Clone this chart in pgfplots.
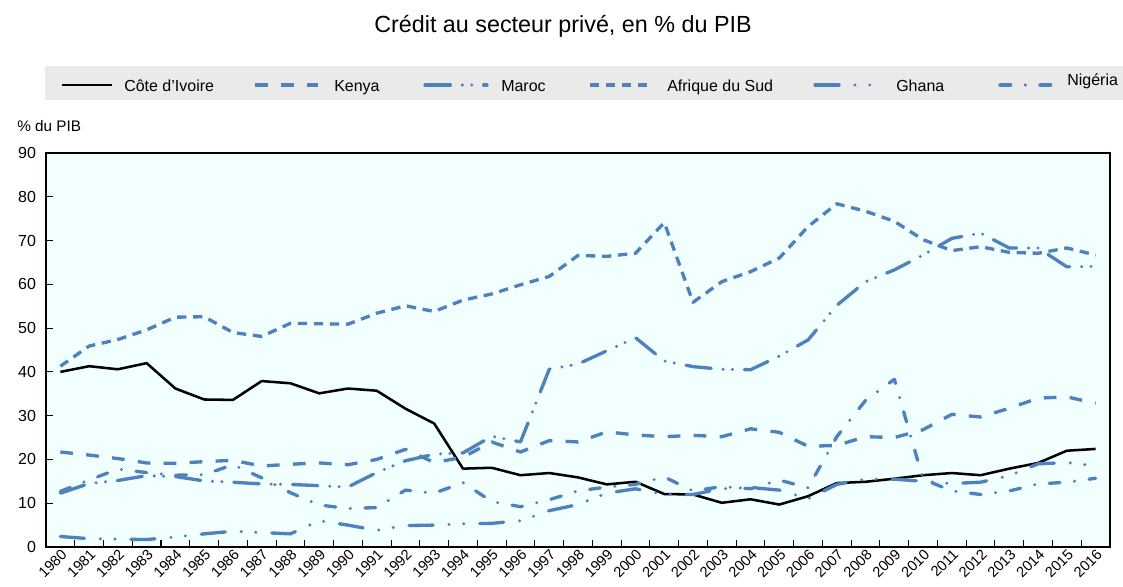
\documentclass[border=0pt]{standalone}
\usepackage{fontspec}
\setmainfont{Liberation Sans}
\usepackage{pgfplots}
\usepackage{pgfplotstable}
\pgfplotsset{compat=1.18}

\definecolor{oecdblue}{RGB}{79,129,189}
\definecolor{plotbg}{RGB}{242,255,255}
\definecolor{legbg}{RGB}{234,234,234}

% year, Cote d'Ivoire, Kenya, Maroc, Afrique du Sud, Ghana, Nigeria
\pgfplotstableread{
year civ  ken  mar  zaf  gha  nga
1980 40.0 21.7 12.3 41.3 2.4  12.7
1981 41.3 21.0 14.5 45.9 1.9  15.3
1982 40.6 20.2 15.2 47.4 1.8  17.8
1983 42.0 19.2 16.3 49.6 1.7  17.0
1984 36.2 19.1 16.1 52.5 2.3  16.4
1985 33.7 19.5 15.1 52.6 3.0  16.5
1986 33.6 19.8 14.8 49.0 3.6  18.8
1987 37.9 18.5 14.4 48.1 3.3  15.8
1988 37.4 18.9 14.3 51.1 3.0  12.4
1989 35.1 19.2 14.0 51.0 6.0  9.6
1990 36.2 18.8 13.7 50.9 5.0  8.8
1991 35.7 20.0 17.0 53.4 3.8  9.0
1992 31.6 22.3 19.7 55.1 4.9  13.0
1993 28.2 19.3 21.2 53.8 5.0  12.3
1994 17.9 20.5 21.5 56.4 5.3  14.7
1995 18.1 24.0 25.3 57.8 5.4  10.4
1996 16.4 21.7 24.0 59.9 6.0  9.2
1997 16.9 24.3 40.6 61.8 8.3  10.8
1998 15.9 24.0 41.8 66.6 9.7  12.8
1999 14.3 26.3 44.8 66.4 12.3 13.7
2000 14.9 25.6 47.8 67.1 13.3 14.3
2001 12.1 25.2 42.5 74.1 12.0 16.0
2002 12.0 25.5 41.2 55.9 12.0 12.8
2003 10.1 25.2 40.6 60.6 13.3 13.8
2004 10.9 27.0 40.5 62.9 13.6 13.3
2005 9.7  26.2 43.6 66.0 13.0 15.3
2006 11.6 23.0 47.3 73.2 11.0 13.5
2007 14.6 23.2 55.2 78.4 14.3 25.2
2008 14.9 25.2 60.6 76.7 15.5 33.5
2009 15.6 25.0 63.3 74.4 15.5 38.3
2010 16.4 26.8 66.7 70.2 15.0 15.5
2011 16.9 30.3 70.5 67.7 14.5 12.8
2012 16.4 29.7 71.7 68.6 14.8 12.0
2013 17.9 31.7 68.3 67.3 16.3 12.8
2014 19.2 34.0 68.3 67.1 19.0 14.4
2015 22.0 34.3 64.0 68.3 19.3 14.8
2016 22.4 32.8 64.1 66.7 18.5 15.7
}\credit

\tikzset{
  civ/.style={black, line width=1.9pt, line join=round},
  ken/.style={oecdblue, line width=2.5pt, line join=round, dash pattern=on 9.5pt off 10pt},
  mar/.style={oecdblue, line width=2.5pt, line join=round, line cap=round,
    dash pattern=on 19pt off 9pt on 0pt off 7pt on 0pt off 9pt},
  zaf/.style={oecdblue, line width=2.5pt, line join=round, dash pattern=on 7pt off 5pt},
  gha/.style={oecdblue, line width=2.5pt, line join=round, line cap=round,
    dash pattern=on 18pt off 12pt on 0pt off 11pt on 0pt off 12pt},
  nga/.style={oecdblue, line width=2.5pt, line join=round, line cap=round,
    dash pattern=on 8pt off 11pt on 0pt off 11pt},
}
% image pixel coordinates (origin top left, 1 px = 0.75pt)
\newcommand{\pxy}[2]{({#1*0.75pt},{(586-#2)*0.75pt})}

\begin{document}
\begin{tikzpicture}
\useasboundingbox (0,0) rectangle (842.25pt,439.5pt);

\node[font=\fontsize{17.5}{20}\selectfont] at \pxy{563}{26} {Crédit au secteur privé, en \% du PIB};

% legend band
\fill[legbg] \pxy{45}{100} rectangle \pxy{1123}{66};
\begin{scope}[every node/.style={anchor=base west, font=\fontsize{12}{14}\selectfont, inner sep=0pt}]
\draw[civ] \pxy{62}{85} -- \pxy{112}{85};
\node at \pxy{124}{92} {Côte d'Ivoire};
\draw[ken] \pxy{255}{85} -- \pxy{318}{85};
\node at \pxy{334}{92} {Kenya};
\draw[mar] \pxy{425}{85} -- \pxy{487}{85};
\node at \pxy{501}{92} {Maroc};
\draw[zaf] \pxy{590}{85} -- \pxy{652}{85};
\node at \pxy{667}{92} {Afrique du Sud};
\draw[gha] \pxy{815}{85} -- \pxy{877}{85};
\node at \pxy{896}{92} {Ghana};
\draw[nga] \pxy{1000}{85} -- \pxy{1058}{85};
\node at \pxy{1067}{86} {Nigéria};
\end{scope}

\node[anchor=west, font=\fontsize{11.5}{13}\selectfont, inner sep=0pt] at \pxy{17}{126} {\% du PIB};

\begin{axis}[
  at={(34.5pt,29.25pt)}, anchor=south west,
  scale only axis, width=798pt, height=295.5pt,
  xmin=1979.5, xmax=2016.5, ymin=0, ymax=90,
  axis background/.style={fill=plotbg},
  axis line style={line width=1.1pt},
  tick align=inside,
  xtick pos=bottom, ytick pos=left,
  xtick={1980.5,1981.5,...,2015.5},
  xticklabels={},
  extra x ticks={1980,1981,...,2016},
  extra x tick style={major tick length=0pt},
  x tick label style={rotate=45, anchor=north east, inner sep=0.5pt,
    font=\fontsize{11}{12}\selectfont},
  ytick={0,10,...,90},
  y tick label style={font=\fontsize{12}{14}\selectfont, xshift=-4pt},
  major tick length=5pt,
  tick style={black, line width=0.8pt},
  /pgf/number format/1000 sep={},
  /pgf/number format/assume math mode=true,
]
\addplot[civ] table[x=year, y=civ] {\credit};
\addplot[ken] table[x=year, y=ken] {\credit};
\addplot[mar] table[x=year, y=mar] {\credit};
\addplot[zaf] table[x=year, y=zaf] {\credit};
\addplot[gha] table[x=year, y=gha] {\credit};
\addplot[nga] table[x=year, y=nga] {\credit};
\end{axis}
\end{tikzpicture}
\end{document}
